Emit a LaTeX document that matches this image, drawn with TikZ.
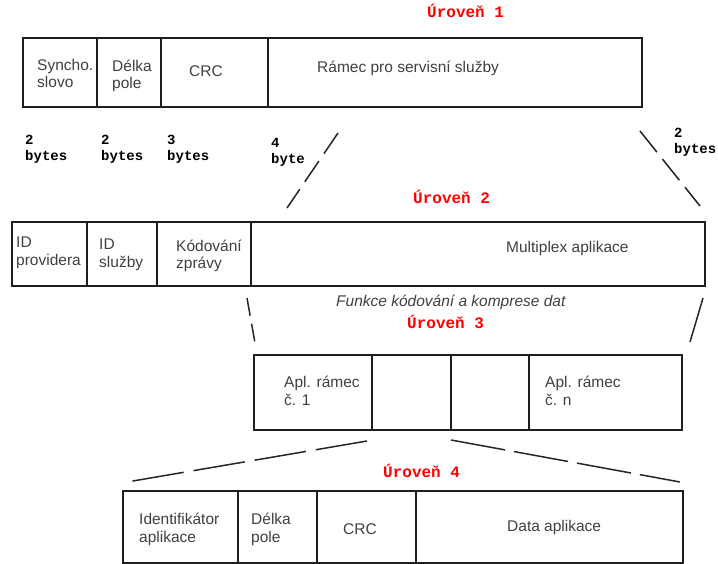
\documentclass[tikz,border=0pt]{standalone}
\usepackage{fontspec}
\setmainfont{Liberation Sans}
\newfontfamily\monobold[BoldFont={Liberation Mono Bold}]{Liberation Mono}
\begin{document}
\begin{tikzpicture}[x=1pt,y=-1pt,
  cell/.style={draw=black!88, line width=1.6pt, rectangle, inner sep=0pt, outer sep=0pt},
  txt/.style={anchor=base west, inner sep=0pt, text=black!75, font=\fontsize{15.5}{17}\selectfont},
  itxt/.style={txt, font=\fontsize{15.5}{17}\selectfont\itshape},
  lvl/.style={anchor=base west, inner sep=0pt, text=red, font=\fontsize{16}{18}\selectfont\monobold\bfseries},
  byt/.style={anchor=base west, inner sep=0pt, text=black, font=\fontsize{14}{16}\selectfont\monobold\bfseries, align=left},
  conn/.style={draw=black!85, line width=1.5pt}
]
\useasboundingbox (0,0) rectangle (718,564);
\fill[white] (0,0) rectangle (718,564);

% Level 1
\node[cell, minimum width=74pt,  minimum height=69pt] (c11) at (60,72.5) {};
\node[cell, minimum width=64pt,  minimum height=69pt] (c12) at (129,72.5) {};
\node[cell, minimum width=107pt, minimum height=69pt] (c13) at (214.5,72.5) {};
\node[cell, minimum width=374pt, minimum height=69pt] (c14) at (455,72.5) {};
\node[txt] (t11a) at (37,71) {Syncho.};
\node[txt] (t11b) at (37,88) {slovo};
\node[txt] (t12a) at (112,72) {Délka};
\node[txt] (t12b) at (112,89) {pole};
\node[txt] (t13) at (189,77) {CRC};
\node[txt] (t14) at (317,73) {Rámec pro servisní služby};
\node[lvl] (u1) at (427,18) {Úroveň 1};

% byte labels
\node[byt] (b1a) at (25,145) {2};
\node[byt] (b1b) at (25,161) {bytes};
\node[byt] (b2a) at (101,145) {2};
\node[byt] (b2b) at (101,161) {bytes};
\node[byt] (b3a) at (167,145) {3};
\node[byt] (b3b) at (167,161) {bytes};
\node[byt] (b4a) at (271,148) {4};
\node[byt] (b4b) at (271,164) {byte};
\node[byt] (b5a) at (674,138) {2};
\node[byt] (b5b) at (674,154) {bytes};

% connectors level 1 -> 2
\coordinate (p1s) at (338,133);
\coordinate (p1e) at (287,208);
\coordinate (p2s) at (640,131);
\coordinate (p2e) at (700,206);
\draw[conn, dash pattern=on 25pt off 9pt] (p1s) -- (p1e);
\draw[conn, dash pattern=on 27pt off 9pt] (p2s) -- (p2e);

% Level 2
\node[lvl] (u2) at (413,204) {Úroveň 2};
\node[cell, minimum width=75pt,  minimum height=64pt] (c21) at (49.5,254) {};
\node[cell, minimum width=70pt,  minimum height=64pt] (c22) at (122,254) {};
\node[cell, minimum width=94pt,  minimum height=64pt] (c23) at (204,254) {};
\node[cell, minimum width=454pt, minimum height=64pt] (c24) at (478,254) {};
\node[txt] (t21a) at (16,248) {ID};
\node[txt] (t21b) at (16,266) {providera};
\node[txt] (t22a) at (99,250) {ID};
\node[txt] (t22b) at (99,268) {služby};
\node[txt] (t23a) at (176,252) {Kódování};
\node[txt] (t23b) at (176,269) {zprávy};
\node[txt] (t24) at (506,253) {Multiplex aplikace};

\node[itxt] (fk) at (336,307) {Funkce kódování a komprese dat};
\node[lvl] (u3) at (407,328) {Úroveň 3};

% connectors level 2 -> 3
\coordinate (p3s) at (247,298);
\coordinate (p3e) at (255,343);
\coordinate (p4s) at (703,298);
\coordinate (p4e) at (690,342);
\draw[conn, dash pattern=on 18pt off 8pt] (p3s) -- (p3e);
\draw[conn] (p4s) -- (p4e);

% Level 3
\node[cell, minimum width=118pt, minimum height=75pt] (c31) at (313,392.5) {};
\node[cell, minimum width=79pt,  minimum height=75pt] (c32) at (411.5,392.5) {};
\node[cell, minimum width=78pt,  minimum height=75pt] (c33) at (490,392.5) {};
\node[cell, minimum width=153pt, minimum height=75pt] (c34) at (605.5,392.5) {};
\node[txt] (t31a) at (284,387) {Apl. rámec};
\node[txt] (t31b) at (284,405) {č. 1};
\node[txt] (t34a) at (545,387) {Apl. rámec};
\node[txt] (t34b) at (545,405) {č. n};

% connectors level 3 -> 4
\coordinate (p5s) at (367,441);
\coordinate (p5e) at (127,482);
\coordinate (p6s) at (451,440);
\coordinate (p6e) at (680,482);
\draw[conn, dash pattern=on 52pt off 10pt] (p5s) -- (p5e);
\draw[conn, dash pattern=on 55pt off 9pt] (p6s) -- (p6e);

% Level 4
\node[lvl] (u4) at (383,477) {Úroveň 4};
\node[cell, minimum width=115pt, minimum height=72pt] (c41) at (180.5,527) {};
\node[cell, minimum width=79pt,  minimum height=72pt] (c42) at (277.5,527) {};
\node[cell, minimum width=99pt,  minimum height=72pt] (c43) at (366.5,527) {};
\node[cell, minimum width=267pt, minimum height=72pt] (c44) at (549.5,527) {};
\node[txt] (t41a) at (139,524) {Identifikátor};
\node[txt] (t41b) at (139,542) {aplikace};
\node[txt] (t42a) at (251,524) {Délka};
\node[txt] (t42b) at (251,542) {pole};
\node[txt] (t43) at (343,534) {CRC};
\node[txt] (t44) at (507,531) {Data aplikace};
\end{tikzpicture}
\end{document}
